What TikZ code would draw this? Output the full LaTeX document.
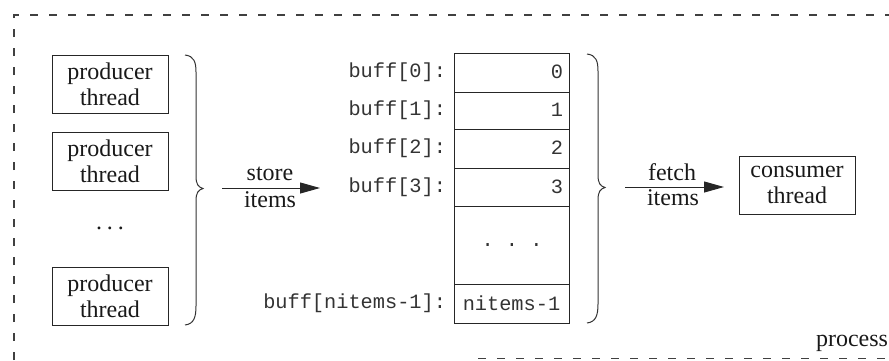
\documentclass[tikz,border=0pt]{standalone}
\usepackage{fontspec}
\setmainfont{Liberation Serif}
\newfontfamily\monof{Liberation Mono}
\usetikzlibrary{arrows.meta}
\begin{document}
\begin{tikzpicture}[x=1pt,y=-1pt,
  every node/.style={inner sep=0pt,outer sep=0pt},
  txt/.style={font=\fontsize{24}{26}\selectfont,text=black!90},
  mono/.style={font=\monof\fontsize{20.3}{24}\selectfont,text=black!80},
  thrbox/.style={draw=black!85,line width=1pt,minimum width=116pt,minimum height=58pt,align=center,txt},
  cell/.style={draw=black!85,line width=1pt,minimum width=115pt},
  brc/.style={draw=black!80,line width=1pt},
  arr/.style={draw=black!85,line width=1pt,-{Triangle[length=20pt,width=11pt]}},
  frame/.style={draw=black!75,line width=1.2pt,dash pattern=on 8pt off 11pt}]
\useasboundingbox (0,0) rectangle (889,360);
% process frame
\coordinate (f1) at (14,360);
\coordinate (f2) at (14,15);
\coordinate (f3) at (889,15);
\coordinate (f4) at (478,358.5);
\coordinate (f5) at (889,358.5);
\draw[frame] (f1) -- (f2) -- (f3);
\draw[frame] (f4) -- (f5);
\node[txt,anchor=east] (proc) at (888,343) {process};
% producers
\node[thrbox] (p1) at (110,84) {producer\\thread};
\node[thrbox] (p2) at (110,161.5) {producer\\thread};
\node[txt] (pd) at (110,228) {.\hspace{5pt}.\hspace{5pt}.};
\node[thrbox] (p3) at (110,296) {producer\\thread};
% left brace
\draw[brc] (185,55) .. controls (194,56) and (196,62) .. (196,72) -- (196,176)
  .. controls (196,184) and (198,187) .. (203,188.5)
  .. controls (198,190) and (196,193) .. (196,201) -- (196,306)
  .. controls (196,317) and (194,324) .. (185,325);
% store arrow
\coordinate (sa) at (222,188);
\coordinate (sb) at (320,188);
\draw[arr] (sa) -- (sb);
\node[txt] (st) at (270,174) {store};
\node[txt] (si) at (270,200) {items};
% buffer cells
\node[cell,minimum height=39pt] (c0) at (511.5,72.5) {};
\node[cell,minimum height=37pt] (c1) at (511.5,110.5) {};
\node[cell,minimum height=39pt] (c2) at (511.5,148.5) {};
\node[cell,minimum height=38pt] (c3) at (511.5,187) {};
\node[cell,minimum height=78pt] (cd) at (511.5,245) {};
\node[cell,minimum height=39pt] (cn) at (511.5,303.5) {};
\node[mono,anchor=east] (v0) at (563,72) {0};
\node[mono,anchor=east] (v1) at (563,110) {1};
\node[mono,anchor=east] (v2) at (563,148) {2};
\node[mono,anchor=east] (v3) at (563,187) {3};
\node[mono] (vd) at (512,245) {.~.~.};
\node[mono] (vnn) at (cn) {nitems-1};
\node[mono,anchor=east] (l0) at (446,72) {buff[0]:};
\node[mono,anchor=east] (l1) at (446,110) {buff[1]:};
\node[mono,anchor=east] (l2) at (446,148) {buff[2]:};
\node[mono,anchor=east] (l3) at (446,187) {buff[3]:};
\node[mono,anchor=east] (ln) at (446,303) {buff[nitems-1]:};
% right brace
\draw[brc] (587,54) .. controls (596,55) and (598,61) .. (598,71) -- (598,175)
  .. controls (598,183) and (600,186) .. (605,187.5)
  .. controls (600,189) and (598,192) .. (598,200) -- (598,304)
  .. controls (598,315) and (596,322) .. (587,323);
% fetch arrow
\coordinate (fa) at (625,187);
\coordinate (fb) at (724,187);
\draw[arr] (fa) -- (fb);
\node[txt] (ft) at (672,172) {fetch};
\node[txt] (fi) at (673,198) {items};
% consumer
\node[thrbox] (cons) at (797,185) {consumer\\thread};
\end{tikzpicture}
\end{document}
